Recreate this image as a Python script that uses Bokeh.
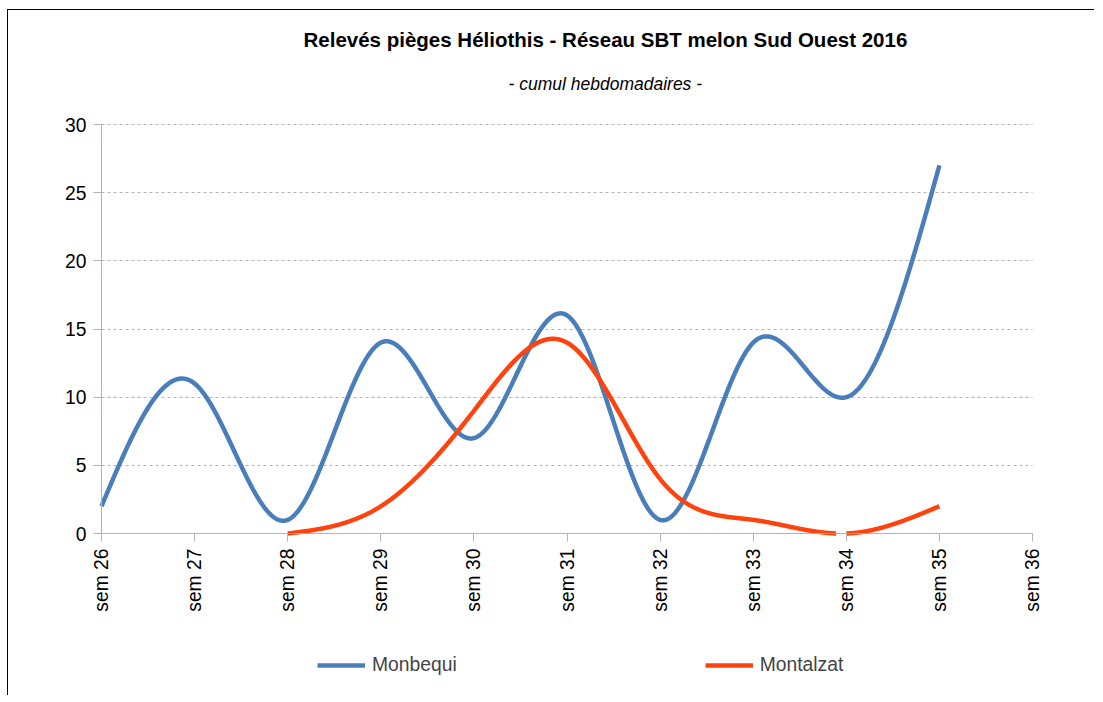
import numpy as np
from bokeh.plotting import figure
from bokeh.models import Range1d, FixedTicker, Legend, LegendItem, Title
from bokeh.embed import file_html
from bokeh.resources import INLINE

# ---------------- data ----------------
weeks = ["sem 26", "sem 27", "sem 28", "sem 29", "sem 30", "sem 31",
         "sem 32", "sem 33", "sem 34", "sem 35", "sem 36"]
monbequi_weeks = ["sem 26", "sem 27", "sem 28", "sem 29", "sem 30",
                  "sem 31", "sem 32", "sem 33", "sem 34", "sem 35"]
monbequi = [2, 11, 1, 14, 7, 16, 1, 14, 10, 27]
montalzat_weeks = ["sem 28", "sem 29", "sem 30", "sem 31", "sem 32",
                   "sem 33", "sem 34", "sem 35"]
montalzat = [0, 2, 9, 14, 4, 1, 0, 2]
y_ticks = [0, 5, 10, 15, 20, 25, 30]
title_text = "Relevés pièges Héliothis - Réseau SBT melon Sud Ouest 2016"
subtitle_text = "- cumul hebdomadaires -"
series_names = ["Monbequi", "Montalzat"]

FONT = "Liberation Sans"
GREY = "#b3b3b3"

# ---------------- layout (canvas pixels) ----------------
W, H = 1087, 686
X0_PX, X1_PX = 93, 1024        # first / last week
Y0_PX, Y30_PX = 523, 114       # value 0 / value 30
FRAME_L, FRAME_R, FRAME_T = 32, 1052, 100
N = len(weeks) - 1
Y_MAX = 30
pxx = (X1_PX - X0_PX) / N
pxy = (Y0_PX - Y30_PX) / Y_MAX
x_start = -(X0_PX - FRAME_L) / pxx
x_end = N + (FRAME_R - X1_PX) / pxx
y_end = Y_MAX + (Y30_PX - FRAME_T) / pxy
y_start = -(H - Y0_PX) / pxy


def natural_spline(xs, ys, per_seg=200):
    """Smooth line rendering (natural cubic spline) through the given points."""
    xs = np.asarray(xs, float)
    ys = np.asarray(ys, float)
    n = len(xs)
    h = np.diff(xs)
    A = np.zeros((n, n))
    b = np.zeros(n)
    A[0, 0] = 1
    A[-1, -1] = 1
    for i in range(1, n - 1):
        A[i, i - 1] = h[i - 1]
        A[i, i] = 2 * (h[i - 1] + h[i])
        A[i, i + 1] = h[i]
        b[i] = 6 * ((ys[i + 1] - ys[i]) / h[i] - (ys[i] - ys[i - 1]) / h[i - 1])
    M = np.linalg.solve(A, b)
    out_x, out_y = [], []
    for i in range(n - 1):
        t = np.linspace(xs[i], xs[i + 1], per_seg, endpoint=(i == n - 2))
        a = xs[i + 1] - t
        c = t - xs[i]
        yy = (M[i] * a ** 3 + M[i + 1] * c ** 3) / (6 * h[i]) \
            + (ys[i] / h[i] - M[i] * h[i] / 6) * a \
            + (ys[i + 1] / h[i] - M[i + 1] * h[i] / 6) * c
        out_x.append(t)
        out_y.append(yy)
    X = np.concatenate(out_x)
    Y = np.concatenate(out_y)
    Y = np.where(Y < -1e-9, np.nan, Y)  # clipped at the axis minimum
    return X, Y


p = figure(width=W, height=H, output_backend="svg", toolbar_location=None,
           x_range=Range1d(x_start, x_end), y_range=Range1d(y_start, y_end),
           min_border_left=FRAME_L, min_border_right=W - FRAME_R,
           min_border_top=FRAME_T, min_border_bottom=0)
p.outline_line_color = None
p.background_fill_color = "white"
p.border_fill_color = "white"
p.styles = {"margin-left": "7px", "margin-top": "9px",
            "border-left": "1px solid #000000", "border-top": "1px solid #000000"}

# axes (pinned at x = first week and y = 0)
p.xaxis.ticker = FixedTicker(ticks=list(range(len(weeks))))
p.xaxis.major_label_overrides = {i: w for i, w in enumerate(weeks)}
p.xaxis.major_label_orientation = np.pi / 2
p.xaxis.fixed_location = 0
p.xaxis.bounds = (0, N)
p.yaxis.ticker = FixedTicker(ticks=y_ticks)
p.yaxis.fixed_location = 0
p.yaxis.bounds = (0, Y_MAX)
for ax in (p.xaxis[0], p.yaxis[0]):
    ax.axis_line_color = GREY
    ax.major_tick_line_color = GREY
    ax.major_tick_out = 8
    ax.major_tick_in = 0
    ax.minor_tick_line_color = None
    ax.major_label_text_font = FONT
    ax.major_label_text_font_size = "19.3px"
    ax.major_label_text_color = "#000000"
    ax.major_label_standoff = 7

p.xgrid.grid_line_color = None
grid = p.ygrid[0]
if "cross_bounds" in grid.properties():
    grid.ticker = FixedTicker(ticks=y_ticks)
    grid.cross_bounds = (0, N)
    grid.grid_line_color = GREY
    grid.grid_line_dash = "3 3"
else:
    grid.grid_line_color = None
    p.segment(x0=0, x1=N, y0=y_ticks, y1=y_ticks, line_color=GREY,
              line_width=1, line_dash="3 3")

# series
mx, my = natural_spline([weeks.index(w) for w in monbequi_weeks], monbequi)
tx, ty = natural_spline([weeks.index(w) for w in montalzat_weeks], montalzat)
r1 = p.line(mx, my, line_color="#4a7ebb", line_width=4.5)
r2 = p.line(tx, ty, line_color="#ff420e", line_width=4.5)

legend = Legend(items=[LegendItem(label=series_names[0], renderers=[r1]),
                       LegendItem(label=series_names[1], renderers=[r2])],
                orientation="horizontal", location=(309 - FRAME_L, 20),
                padding=0, spacing=248, glyph_width=48, glyph_height=20,
                label_height=20, label_standoff=7, label_text_font=FONT,
                label_text_font_size="19.3px", border_line_color=None,
                background_fill_alpha=0, margin=0)
p.add_layout(legend)

p.add_layout(Title(text=subtitle_text, align="left", offset=X0_PX + 407 - FRAME_L,
                   standoff=34, text_font=FONT, text_font_style="italic",
                   text_font_size="17.5px", text_color="#000000"), "above")
p.add_layout(Title(text=title_text, align="left", offset=X0_PX + 202 - FRAME_L,
                   standoff=8, text_font=FONT, text_font_style="bold",
                   text_font_size="20.5px", text_color="#000000"), "above")

open("out.html", "w").write(file_html(p, INLINE))
